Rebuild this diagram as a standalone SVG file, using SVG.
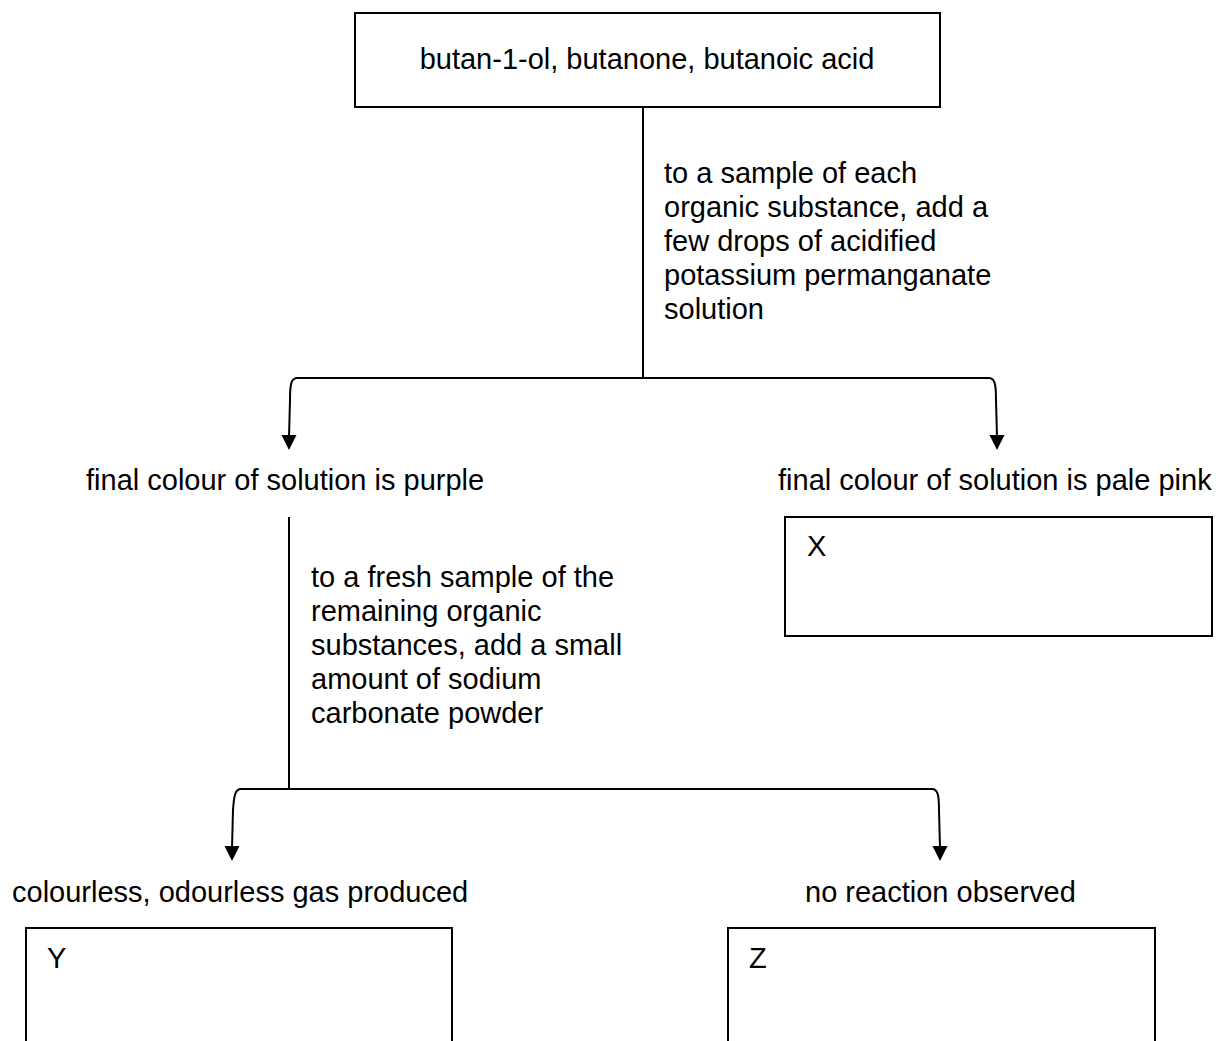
<svg xmlns="http://www.w3.org/2000/svg" width="1218" height="1041" viewBox="0 0 1218 1041">
<style>
text{font-family:"Liberation Sans",Arial,sans-serif;font-size:29px;fill:#000}
.box{fill:#fff;stroke:#000;stroke-width:2}
.ln{fill:none;stroke:#000;stroke-width:2}
.ah{fill:#000;stroke:none}
</style>
<rect width="1218" height="1041" fill="#fff"/>
<g id="connectors">
<path class="ln" d="M643,107 V378"/>
<path class="ln" d="M643,378 H297 C291,378 290,385 290,400 L289,437"/>
<path class="ln" d="M643,378 H989 C995,378 996,385 996,400 L997,437"/>
<polygon class="ah" points="289,450 281.5,435 296.5,435"/>
<polygon class="ah" points="997,450 989.5,435 1004.5,435"/>
<path class="ln" d="M289,517 V789"/>
<path class="ln" d="M289,789 H241 C235,789 234,796 233,810 L232,848"/>
<path class="ln" d="M289,789 H932 C938,789 939,796 939,810 L940,848"/>
<polygon class="ah" points="232,861 224.5,846 239.5,846"/>
<polygon class="ah" points="940,861 932.5,846 947.5,846"/>
</g>
<g id="node-start">
<rect class="box" x="355" y="13" width="585" height="94"/>
<text x="647" y="69" text-anchor="middle">butan-1-ol, butanone, butanoic acid</text>
</g>
<g id="label-step1">
<text x="664"><tspan x="664" y="183">to a sample of each</tspan><tspan x="664" y="217">organic substance, add a</tspan><tspan x="664" y="251">few drops of acidified</tspan><tspan x="664" y="285">potassium permanganate</tspan><tspan x="664" y="319">solution</tspan></text>
</g>
<g id="node-purple">
<text x="86" y="490">final colour of solution is purple</text>
</g>
<g id="node-pink">
<text x="778" y="490">final colour of solution is pale pink</text>
</g>
<g id="node-X">
<rect class="box" x="785" y="517" width="427" height="119"/>
<text x="807" y="556">X</text>
</g>
<g id="label-step2">
<text x="311"><tspan x="311" y="587">to a fresh sample of the</tspan><tspan x="311" y="621">remaining organic</tspan><tspan x="311" y="655">substances, add a small</tspan><tspan x="311" y="689">amount of sodium</tspan><tspan x="311" y="723">carbonate powder</tspan></text>
</g>
<g id="node-gas">
<text x="12" y="902">colourless, odourless gas produced</text>
</g>
<g id="node-noreaction">
<text x="805" y="902">no reaction observed</text>
</g>
<g id="node-Y">
<path class="ln" d="M26,1045 V928 H452 V1045"/>
<text x="47" y="968">Y</text>
</g>
<g id="node-Z">
<path class="ln" d="M728,1045 V928 H1155 V1045"/>
<text x="749" y="968">Z</text>
</g>
</svg>
